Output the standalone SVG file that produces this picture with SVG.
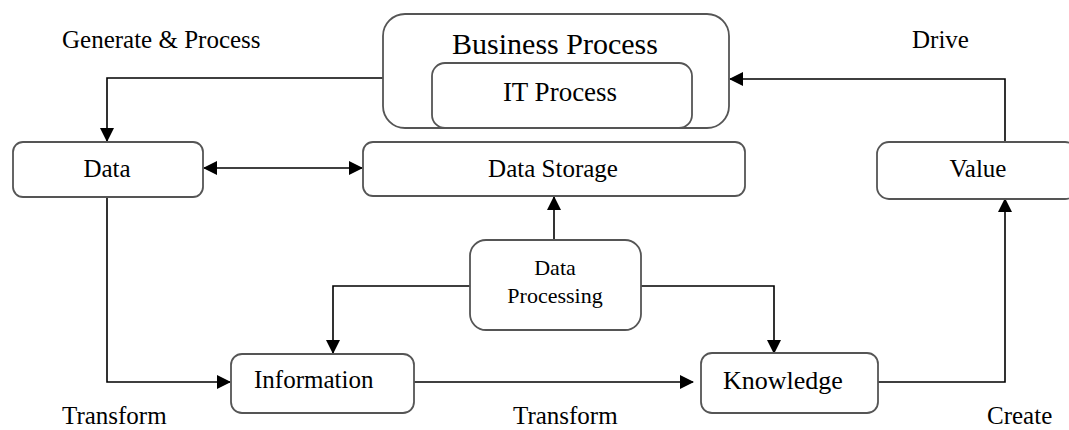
<svg xmlns="http://www.w3.org/2000/svg" width="1069" height="430" viewBox="0 0 1069 430">
<style>
.box{fill:#fff;stroke:#555;stroke-width:1.8}
.ln{fill:none;stroke:#000;stroke-width:1.6}
text{font-family:"Liberation Serif","Times New Roman","DejaVu Serif",serif;fill:#000;font-size:25px}
.c{text-anchor:middle}
.big{font-size:30px}
.it{font-size:27px}
.sm{font-size:22px}
.kn{font-size:26px}
</style>
<defs>
<marker id="ah" markerUnits="userSpaceOnUse" markerWidth="14" markerHeight="14" viewBox="0 0 14 14" refX="13" refY="7" orient="auto-start-reverse">
<path d="M0,0 L14,7 L0,14 z" fill="#000"/>
</marker>
</defs>
<rect width="1069" height="430" fill="#fff"/>
<g id="connectors">
<path class="ln" d="M383,78 H107 V141" marker-end="url(#ah)"/>
<path class="ln" d="M204,168 H362" marker-start="url(#ah)" marker-end="url(#ah)"/>
<path class="ln" d="M554,240 V197" marker-end="url(#ah)"/>
<path class="ln" d="M470,286 H333 V353" marker-end="url(#ah)"/>
<path class="ln" d="M641,286 H774 V353" marker-end="url(#ah)"/>
<path class="ln" d="M107,197 V382 H230" marker-end="url(#ah)"/>
<path class="ln" d="M414,382 H693" marker-end="url(#ah)"/>
<path class="ln" d="M878,382 H1005 V199" marker-end="url(#ah)"/>
<path class="ln" d="M1005,142 V79 H730" marker-end="url(#ah)"/>
</g>
<g id="business-process">
<rect class="box" x="383" y="14" width="346" height="114" rx="22"/>
<text class="c big" x="555" y="54">Business Process</text>
</g>
<g id="it-process">
<rect class="box" x="432" y="63" width="260" height="65" rx="13"/>
<text class="c it" x="560" y="101">IT Process</text>
</g>
<g id="data">
<rect class="box" x="13" y="142" width="190" height="55" rx="10"/>
<text class="c" x="107" y="177">Data</text>
</g>
<g id="data-storage">
<rect class="box" x="363" y="142" width="382" height="54" rx="10"/>
<text class="c" x="553" y="177">Data Storage</text>
</g>
<g id="value">
<rect class="box" x="877" y="142" width="200" height="57" rx="12"/>
<text class="c" x="978" y="177">Value</text>
</g>
<g id="data-processing">
<rect class="box" x="470" y="240" width="171" height="90" rx="16"/>
<text class="c sm" x="555" y="275">Data</text>
<text class="c sm" x="555" y="303">Processing</text>
</g>
<g id="information">
<rect class="box" x="231" y="354" width="183" height="59" rx="11"/>
<text x="254" y="388">Information</text>
</g>
<g id="knowledge">
<rect class="box" x="701" y="353" width="177" height="60" rx="11"/>
<text class="kn" x="723" y="389">Knowledge</text>
</g>
<g id="labels">
<text x="62" y="48">Generate &amp; Process</text>
<text x="912" y="48">Drive</text>
<text x="62" y="424">Transform</text>
<text x="513" y="424">Transform</text>
<text x="987" y="424">Create</text>
</g>
</svg>
